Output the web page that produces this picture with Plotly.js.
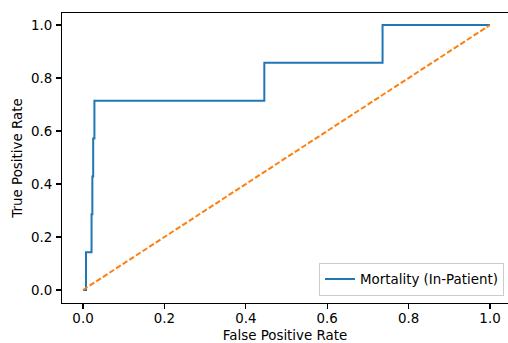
<!DOCTYPE html>
<html>
<head>
<meta charset="utf-8">
<script src="https://cdn.plot.ly/plotly-3.0.1.min.js"></script>
<style>html,body{margin:0;padding:0;background:#fff;}#chart{width:508px;height:343px;}</style>
</head>
<body>
<div id="chart"></div>
<script>
const seriesName = "Mortality (In-Patient)";
const fpr = [0.0, 0.0074, 0.0074, 0.021, 0.021, 0.023, 0.023, 0.025, 0.025, 0.026, 0.026, 0.028, 0.028, 0.4455, 0.4455, 0.736, 0.736, 1.0];
const tpr = [0.0, 0.0, 0.1429, 0.1429, 0.2857, 0.2857, 0.4286, 0.4286, 0.5714, 0.5714, 0.5714, 0.5714, 0.7143, 0.7143, 0.8571, 0.8571, 1.0, 1.0];
const chanceX = [0, 1];
const chanceY = [0, 1];
const tickVals = [0, 0.2, 0.4, 0.6, 0.8, 1.0];
const tickText = ["0.0", "0.2", "0.4", "0.6", "0.8", "1.0"];
const xTitle = "False Positive Rate";
const yTitle = "True Positive Rate";

const font = {family: "DejaVu Sans", size: 13.4, color: "#000"};
const traces = [
  {x: fpr, y: tpr, type: "scatter", mode: "lines", name: seriesName,
   line: {color: "#1f77b4", width: 2, shape: "linear"}},
  {x: chanceX, y: chanceY, type: "scatter", mode: "lines", showlegend: false,
   line: {color: "#ff7f0e", width: 2, dash: "5.5px,2.4px"}}
];
const layout = {
  width: 508, height: 343,
  margin: {l: 62, r: 0, t: 13, b: 40, pad: 0},
  paper_bgcolor: "#fff", plot_bgcolor: "#fff",
  font: font,
  showlegend: true,
  legend: {x: 0.991, xanchor: "right", y: 0.025, yanchor: "bottom",
           bgcolor: "rgba(255,255,255,0.8)", bordercolor: "#cccccc", borderwidth: 1,
           font: {family: "DejaVu Sans", size: 13.4, color: "#000"}},
  xaxis: {range: [-0.0516, 1.0442], tickvals: tickVals, ticktext: tickText,
          ticks: "outside", ticklen: 5, tickwidth: 1.1, tickcolor: "#000",
          showline: true, linecolor: "#000", linewidth: 1.1, mirror: true,
          showgrid: false, zeroline: false, ticklabelstandoff: -2,
          title: {text: xTitle, font: font, standoff: 8}},
  yaxis: {range: [-0.049, 1.0453], tickvals: tickVals, ticktext: tickText,
          ticks: "outside", ticklen: 5, tickwidth: 1.1, tickcolor: "#000",
          showline: true, linecolor: "#000", linewidth: 1.1, mirror: false,
          showgrid: false, zeroline: false, ticklabelstandoff: 1,
          title: {text: yTitle, font: font, standoff: 5}}
};
Plotly.newPlot("chart", traces, layout, {staticPlot: true, displayModeBar: false});
</script>
</body>
</html>
